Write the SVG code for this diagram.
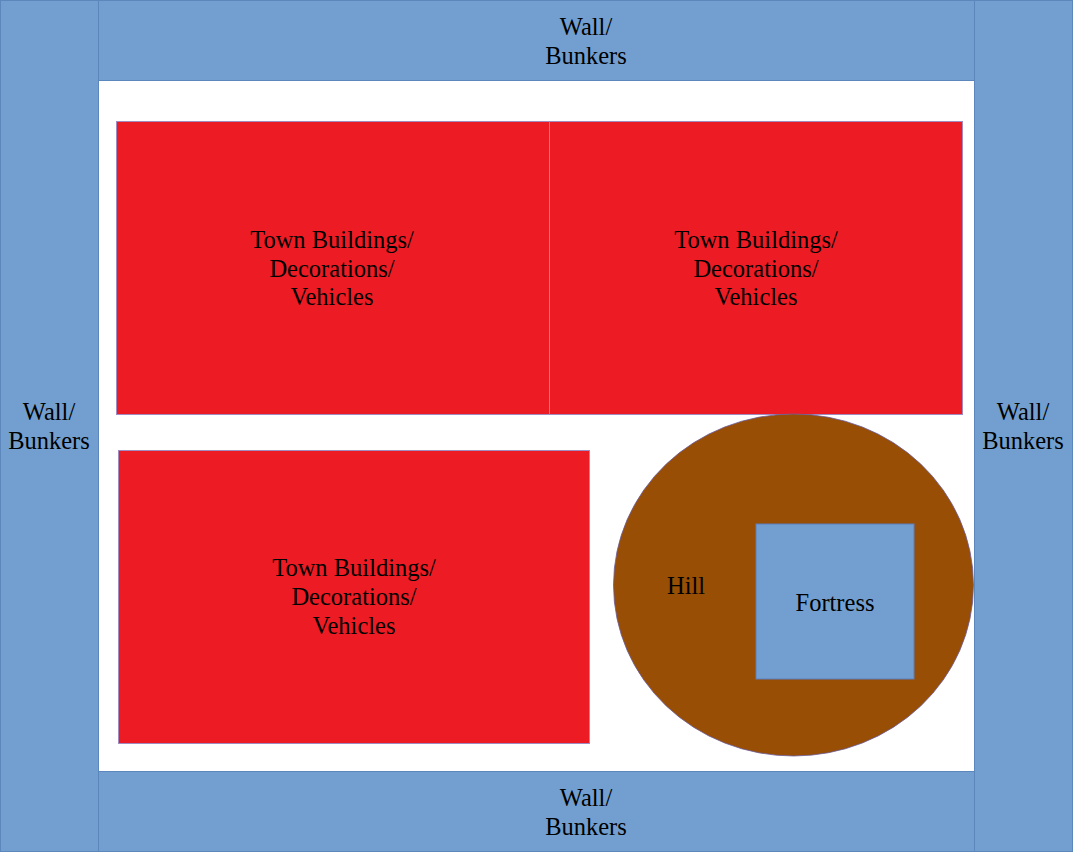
<svg xmlns="http://www.w3.org/2000/svg" width="1073" height="852" viewBox="0 0 1073 852">
<style>
.wall{fill:#729fcf;stroke:#5b87bd;stroke-width:1}
.town{fill:#ed1c24;stroke:#a08cc0;stroke-width:1}
.hill{fill:#984e04;stroke:#6a5a9a;stroke-width:0.8}
.fort{fill:#729fcf;stroke:#5b7fc0;stroke-width:1}
text{font-family:"Liberation Serif","Times New Roman",serif;font-size:24.5px;fill:#000;text-anchor:middle}
</style>
<rect width="1073" height="852" fill="#ffffff"/>
<g id="wall-left"><rect class="wall" x="0.5" y="0.5" width="98" height="851"/><text x="49" y="420">Wall/</text><text x="49" y="449">Bunkers</text></g>
<g id="wall-right"><rect class="wall" x="974.5" y="0.5" width="98" height="851"/><text x="1023" y="420">Wall/</text><text x="1023" y="449">Bunkers</text></g>
<g id="wall-top"><rect class="wall" x="98.5" y="0.5" width="876" height="80"/><text x="586" y="35">Wall/</text><text x="586" y="64">Bunkers</text></g>
<g id="wall-bottom"><rect class="wall" x="98.5" y="771.5" width="876" height="80"/><text x="586" y="806">Wall/</text><text x="586" y="835">Bunkers</text></g>
<g id="town-1"><rect class="town" x="116.5" y="121.5" width="433" height="293"/><text x="332" y="248">Town Buildings/</text><text x="332" y="277">Decorations/</text><text x="332" y="305">Vehicles</text></g>
<g id="town-2"><rect class="town" x="549.5" y="121.5" width="413" height="293"/><text x="756" y="248">Town Buildings/</text><text x="756" y="277">Decorations/</text><text x="756" y="305">Vehicles</text></g>
<g id="town-3"><rect class="town" x="118.5" y="450.5" width="471" height="293"/><text x="354" y="576">Town Buildings/</text><text x="354" y="605">Decorations/</text><text x="354" y="634">Vehicles</text></g>
<g id="hill"><ellipse class="hill" cx="793.5" cy="585" rx="180" ry="171"/><text x="686" y="594">Hill</text></g>
<g id="fortress"><rect class="fort" x="756" y="524" width="158" height="155"/><text x="835" y="611">Fortress</text></g>
<g id="connectors"></g>
</svg>
